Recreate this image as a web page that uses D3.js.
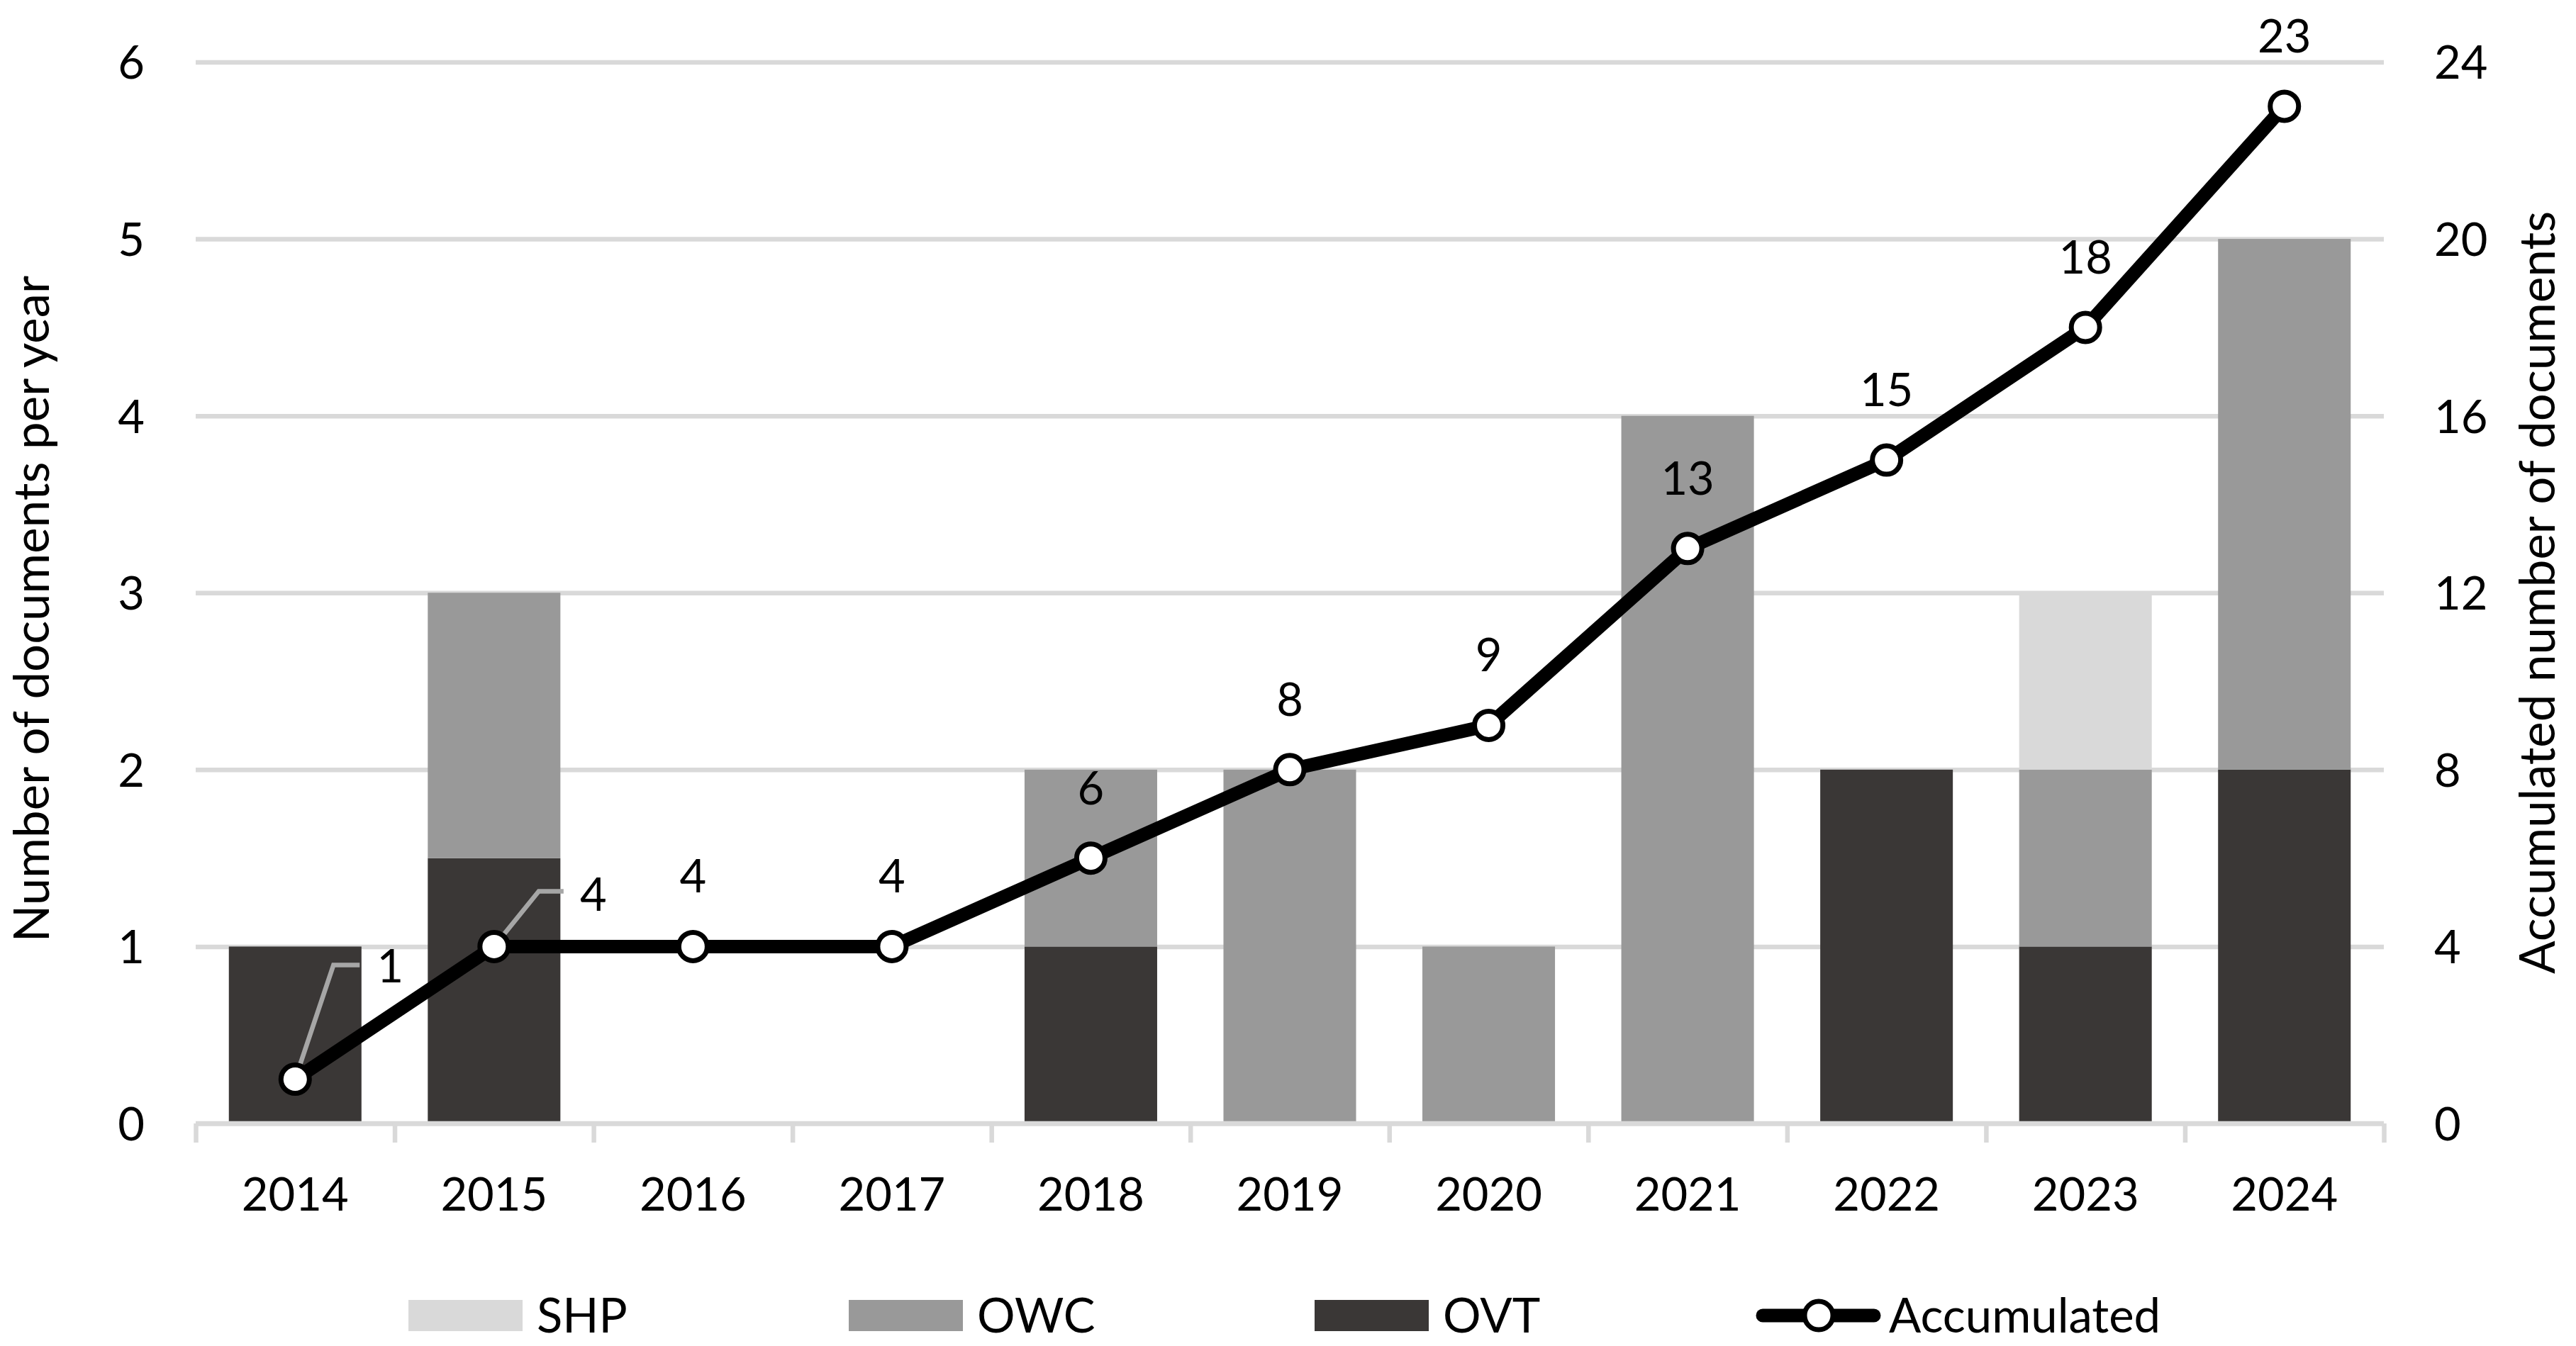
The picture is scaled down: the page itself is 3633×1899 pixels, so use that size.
<!DOCTYPE html>
<html>
<head>
<meta charset="utf-8">
<script src="https://cdn.jsdelivr.net/npm/d3@7"></script>
<style>
  body { margin: 0; background: #fff; }
  svg { display: block; }
  text { font-family: Lato, "Open Sans", sans-serif; fill: #000; }
</style>
</head>
<body>
<script>
// Data
const years = ["2014", "2015", "2016", "2017", "2018", "2019", "2020", "2021", "2022", "2023", "2024"];
const ovt = [1, 1.5, 0, 0, 1, 0, 0, 0, 2, 1, 2];
const owc = [0, 1.5, 0, 0, 1, 2, 1, 4, 0, 1, 3];
const shp = [0, 0, 0, 0, 0, 0, 0, 0, 0, 1, 0];
const accumulated = [1, 4, 4, 4, 6, 8, 9, 13, 15, 18, 23];
const leftTicks = [0, 1, 2, 3, 4, 5, 6];
const rightTicks = [0, 4, 8, 12, 16, 20, 24];
const seriesNames = ["OVT", "OWC", "SHP"];

const w = 3633;
const h = 1899;
const plotLeft = 276, plotRight = 3362, plotTop = 87.5, plotBottom = 1585;
const fontSize = 65;
const colors = { OVT: "#3a3736", OWC: "#999999", SHP: "#d9d9d9" };
const gridColor = "#d9d9d9";

let svg = d3.select("body").append("svg").attr("width", w).attr("height", h);

let xScale = d3.scaleBand()
  .domain(years)
  .range([plotLeft, plotRight])
  .paddingInner(1 / 3)
  .paddingOuter(1 / 6);

let yLeft = d3.scaleLinear().domain([0, 6]).range([plotBottom, plotTop]);
let yRight = d3.scaleLinear().domain([0, 24]).range([plotBottom, plotTop]);

// Gridlines + left axis labels
let leftAxis = svg.append("g")
  .attr("transform", "translate(" + plotLeft + ",0)")
  .call(d3.axisLeft(yLeft).tickValues(leftTicks).tickSize(-(plotRight - plotLeft)).tickPadding(72).tickFormat(d3.format("d")));
leftAxis.select(".domain").remove();
leftAxis.selectAll("line").attr("stroke", gridColor).attr("stroke-width", 6.5);
leftAxis.selectAll("text").attr("font-size", fontSize).attr("font-family", null).attr("dy", "0.36em");

// Right axis labels
let rightAxis = svg.append("g")
  .attr("transform", "translate(" + plotRight + ",0)")
  .call(d3.axisRight(yRight).tickValues(rightTicks).tickSize(0).tickPadding(71).tickFormat(d3.format("d")));
rightAxis.select(".domain").remove();
rightAxis.selectAll("text").attr("font-size", fontSize).attr("font-family", null).attr("dy", "0.36em");

// Stacked bars
let table = years.map((y, i) => ({ year: y, OVT: ovt[i], OWC: owc[i], SHP: shp[i] }));
let stacked = d3.stack().keys(seriesNames)(table);

svg.append("g")
  .selectAll("g")
  .data(stacked)
  .enter()
  .append("g")
  .attr("fill", (d) => colors[d.key])
  .selectAll("rect")
  .data((d) => d.filter((v) => v[1] - v[0] > 0))
  .enter()
  .append("rect")
  .attr("x", (d) => xScale(d.data.year))
  .attr("y", (d) => yLeft(d[1]))
  .attr("width", xScale.bandwidth())
  .attr("height", (d) => yLeft(d[0]) - yLeft(d[1]));

// X axis: baseline, boundary ticks, labels
let boundary = d3.scaleLinear().domain([0, years.length]).range([plotLeft, plotRight]);
let xTicks = svg.append("g")
  .attr("transform", "translate(0," + plotBottom + ")")
  .call(d3.axisBottom(boundary).ticks(years.length).tickSize(27).tickFormat(""));
xTicks.select(".domain").attr("stroke", gridColor).attr("stroke-width", 6.5).attr("d", "M" + plotLeft + ",0H" + plotRight);
xTicks.selectAll("line").attr("stroke", gridColor).attr("stroke-width", 6.5);

let xAxis = svg.append("g")
  .attr("transform", "translate(0," + plotBottom + ")")
  .call(d3.axisBottom(xScale).tickSize(0).tickPadding(77));
xAxis.select(".domain").remove();
xAxis.selectAll("text").attr("font-size", fontSize).attr("font-family", null);

// Accumulated line
let cx = (d, i) => xScale(years[i]) + xScale.bandwidth() / 2;
let line = d3.line()
  .x((d, i) => cx(d, i))
  .y((d) => yRight(d));

svg.append("path")
  .datum(accumulated)
  .attr("fill", "none")
  .attr("stroke", "#000")
  .attr("stroke-width", 19)
  .attr("stroke-linejoin", "round")
  .attr("d", line);

// Leader lines for the first two labels
let labelShift = { 0: [134, -137], 1: [140, -50] };
let leaders = { 0: [[54, -161], [91, -161]], 1: [[63, -78], [98, -78]] };
Object.keys(leaders).forEach((k) => {
  let i = +k;
  let px = cx(accumulated[i], i), py = yRight(accumulated[i]);
  let pts = [[px, py]].concat(leaders[k].map((p) => [px + p[0], py + p[1]]));
  svg.append("path")
    .attr("d", d3.line()(pts))
    .attr("fill", "none")
    .attr("stroke", "#a6a6a6")
    .attr("stroke-width", 6.5);
});

svg.append("g")
  .selectAll("circle")
  .data(accumulated)
  .enter()
  .append("circle")
  .attr("cx", (d, i) => cx(d, i))
  .attr("cy", (d) => yRight(d))
  .attr("r", 20)
  .attr("fill", "#fff")
  .attr("stroke", "#000")
  .attr("stroke-width", 7);

// Data labels
svg.append("g")
  .selectAll("text")
  .data(accumulated)
  .enter()
  .append("text")
  .attr("font-size", fontSize)
  .attr("text-anchor", "middle")
  .attr("x", (d, i) => cx(d, i) + (labelShift[i] ? labelShift[i][0] : 0))
  .attr("y", (d, i) => yRight(d) + (labelShift[i] ? labelShift[i][1] : -76))
  .text((d) => d);

// Axis titles
svg.append("text")
  .attr("font-size", 69)
  .attr("text-anchor", "middle")
  .attr("transform", "translate(69,859) rotate(-90)")
  .text("Number of documents per year");

svg.append("text")
  .attr("font-size", 69)
  .attr("text-anchor", "middle")
  .attr("transform", "translate(3603,836) rotate(-90)")
  .text("Accumulated number of documents");

// Legend
let legendItems = [
  { name: "SHP", x: 576 },
  { name: "OWC", x: 1197 },
  { name: "OVT", x: 1854 }
];
let legendY = 1856;
let legendFont = 67;
let legend = svg.append("g");
legendItems.forEach((item) => {
  legend.append("rect")
    .attr("x", item.x)
    .attr("y", legendY - 22)
    .attr("width", 161)
    .attr("height", 44)
    .attr("fill", colors[item.name]);
  legend.append("text")
    .attr("x", item.x + 181)
    .attr("y", legendY + 24)
    .attr("font-size", legendFont)
    .text(item.name);
});
legend.append("line")
  .attr("x1", 2486).attr("x2", 2643)
  .attr("y1", legendY).attr("y2", legendY)
  .attr("stroke", "#000").attr("stroke-width", 19).attr("stroke-linecap", "round");
legend.append("circle")
  .attr("cx", 2565).attr("cy", legendY).attr("r", 20)
  .attr("fill", "#fff").attr("stroke", "#000").attr("stroke-width", 7);
legend.append("text")
  .attr("x", 2664)
  .attr("y", legendY + 24)
  .attr("font-size", legendFont)
  .text("Accumulated");
</script>
</body>
</html>
